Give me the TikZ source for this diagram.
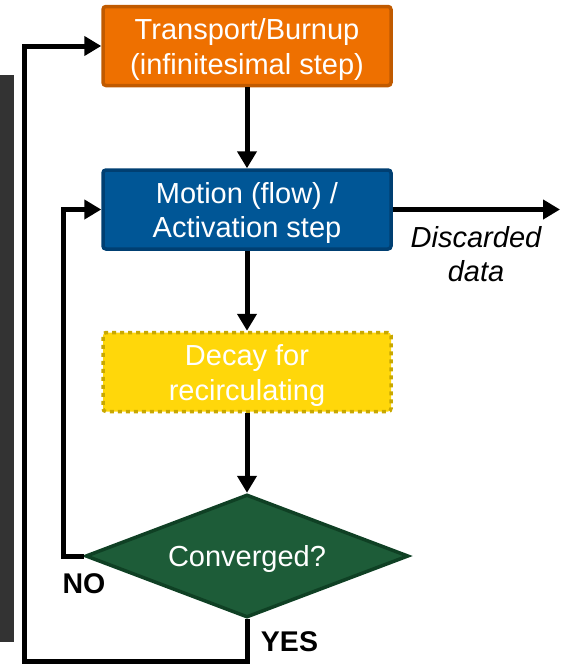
\documentclass[tikz,border=0pt]{standalone}
\usepackage{fontspec}
\setmainfont{Liberation Sans}
\usetikzlibrary{shapes.geometric,arrows.meta}

\definecolor{orfill}{HTML}{EE7000}
\definecolor{ordraw}{HTML}{C05A00}
\definecolor{blfill}{HTML}{005696}
\definecolor{bldraw}{HTML}{003F72}
\definecolor{yefill}{HTML}{FFD70A}
\definecolor{yedraw}{HTML}{C9A800}
\definecolor{grfill}{HTML}{1D5C38}
\definecolor{grdraw}{HTML}{0F4024}
\definecolor{sidebar}{HTML}{333333}

\begin{document}
\begin{tikzpicture}[x=1pt,y=-1pt,
  boxtext/.style={text=white, align=center, inner sep=0pt,
    font=\fontsize{29}{34.5}\selectfont, yshift=-3.5pt},
  stepbox/.style={rectangle, rounded corners=3pt, minimum width=288pt,
    minimum height=79pt, line width=3.5pt, inner sep=0pt},
  flow/.style={line width=5pt, -{Triangle[width=19pt,length=17pt]}},
  lbl/.style={font=\fontsize{28.5}{34}\selectfont\bfseries, inner sep=0pt}]
\useasboundingbox (0,0) rectangle (560,664);

% side bar
\fill[sidebar] (0,75) rectangle (14,642);

% process boxes
\node[stepbox, fill=orfill, draw=ordraw,
  label={[boxtext]center:{Transport/Burnup\\(infinitesimal step)}}] (burn) at (247,46) {};
\node[stepbox, fill=blfill, draw=bldraw,
  label={[boxtext]center:{Motion (flow) /\\Activation step}}] (act) at (247,209.5) {};
\node[stepbox, fill=yefill, draw=yedraw, dash pattern=on 4pt off 4pt,
  label={[boxtext]center:{Decay for\\recirculating}}] (decay) at (247,372) {};
\node[diamond, aspect=2.64, minimum width=323pt, minimum height=123pt, inner sep=0pt,
  fill=grfill, draw=grdraw, line width=3.5pt,
  label={[boxtext, yshift=1pt]center:{Converged?}}] (conv) at (247,556) {};

% main chain
\draw[flow] (burn.south) -- (act.north);
\draw[flow] (act.south) -- (decay.north);
\draw[flow] (decay.south) -- (conv.north);

% NO branch back to the activation step
\coordinate (nocorner) at (63,556);
\draw[flow] (conv.west) -- (nocorner) |- (act.west);
\node[lbl] (no) at (84,584) {NO};

% YES branch back to the next transport step
\coordinate (yesdown) at (247,661);
\coordinate (yesleft) at (24,661);
\draw[flow] (conv.south) -- (yesdown) -- (yesleft) |- (burn.west);
\node[lbl] (yes) at (289.5,642) {YES};

% discarded output
\coordinate (out) at (560,209.5);
\draw[flow] (act.east) -- (out);
\node[font=\fontsize{29}{34}\selectfont\itshape, align=center, inner sep=0pt]
  (disc) at (476,254) {Discarded\\data};
\end{tikzpicture}
\end{document}
